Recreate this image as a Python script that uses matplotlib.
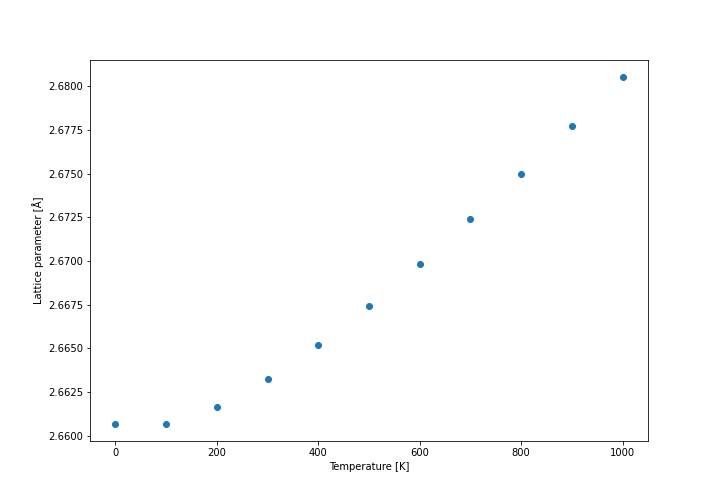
import matplotlib
matplotlib.use("Agg")
import matplotlib.pyplot as plt

temperatures = [0, 100, 200, 300, 400, 500, 600, 700, 800, 900, 1000]
lattice = [2.66069, 2.66069, 2.66166, 2.66323, 2.66521, 2.66745, 2.66986, 2.67238, 2.67501, 2.67771, 2.68052]

fig, ax = plt.subplots(figsize=(10, 7), dpi=72)
fig.subplots_adjust(left=0.125, right=0.9, top=0.881, bottom=0.125)
ax.scatter(temperatures, lattice)
ax.set_xlabel("Temperature [K]")
ax.set_ylabel("Lattice parameter [Å]")
fig.savefig("out.png", dpi=72)
